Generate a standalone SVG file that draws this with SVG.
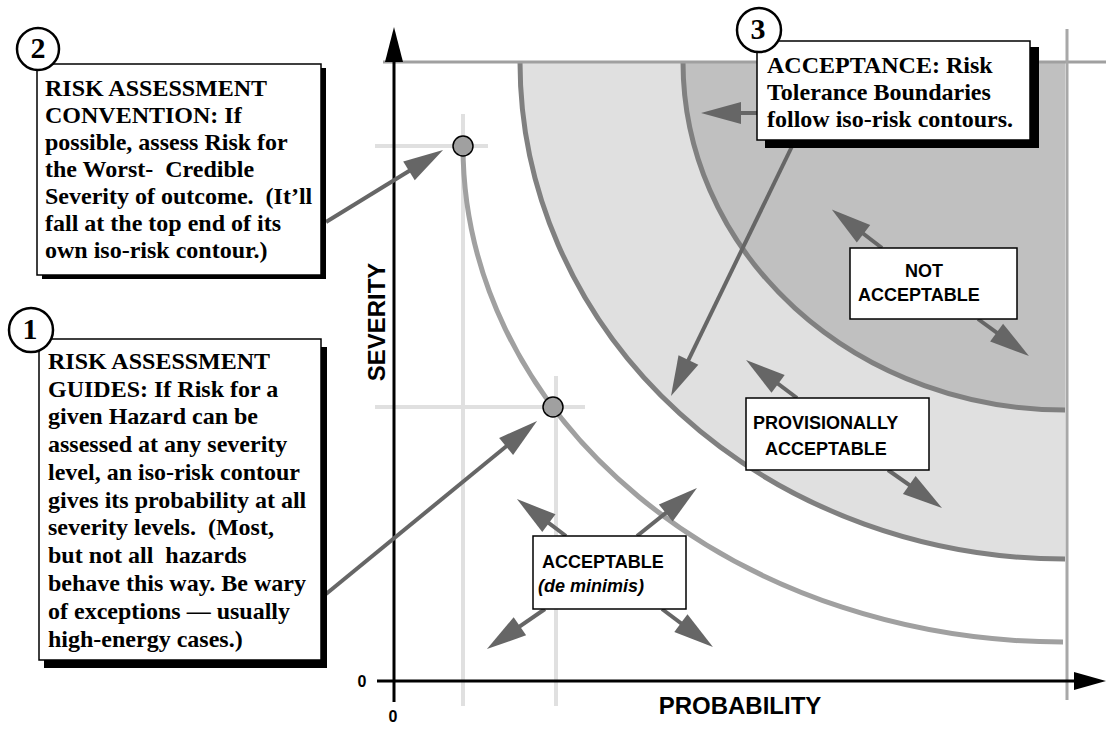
<svg xmlns="http://www.w3.org/2000/svg" width="1106" height="730" viewBox="0 0 1106 730">
<style>
.note{font-family:"Liberation Serif","Times New Roman",serif;font-weight:bold;font-size:24px;fill:#000}
.num{font-family:"Liberation Serif","Times New Roman",serif;font-weight:bold;font-size:30px;text-anchor:middle;fill:#000}
.lbl{font-family:"Liberation Sans",Arial,sans-serif;font-weight:bold;font-size:18px;fill:#000}
.ax{font-family:"Liberation Sans",Arial,sans-serif;font-weight:bold;font-size:24px;fill:#000}
.zero{font-family:"Liberation Sans",Arial,sans-serif;font-weight:bold;font-size:16px;fill:#000;text-anchor:middle}
.box{fill:#fff;stroke:#000;stroke-width:1.5}
.shadow{fill:#000}
.circ{fill:#fff;stroke:#000;stroke-width:2.5}
.arrow{stroke:#666;stroke-width:4;fill:none;marker-end:url(#ah)}
.guide{stroke:#e0e0e0;stroke-width:4}
.pt{fill:#a0a0a0;stroke:#000;stroke-width:1.5}
.bound{fill:none;stroke:#808080;stroke-width:5}
</style>
<defs>
<marker id="ah" markerUnits="userSpaceOnUse" markerWidth="40" markerHeight="22" refX="12" refY="11" orient="auto" overflow="visible">
<path d="M0,0 L40,11 L0,22 Z" fill="#666"/>
</marker>
</defs>
<g id="chart">
<path d="M520 62 A545 497 0 0 0 1065 559 L1065 62 Z" fill="#e0e0e0"/>
<path d="M683 62 A382 348 0 0 0 1065 410 L1065 62 Z" fill="#c0c0c0"/>
<line class="guide" x1="375" y1="146" x2="488" y2="146"/>
<line class="guide" x1="463" y1="114" x2="463" y2="706"/>
<line class="guide" x1="375" y1="407" x2="585" y2="407"/>
<line class="guide" x1="556" y1="376" x2="556" y2="706"/>
<path class="bound" d="M520 62 A545 497 0 0 0 1065 559"/>
<path class="bound" d="M683 62 A382 348 0 0 0 1065 410"/>
<path d="M463 146 A600 496 0 0 0 1063 642" fill="none" stroke="#a0a0a0" stroke-width="5"/>
<line x1="383" y1="62" x2="1106" y2="62" stroke="#a0a0a0" stroke-width="3"/>
<line x1="1067" y1="29" x2="1067" y2="700" stroke="#a8a8a8" stroke-width="3"/>
<line x1="394" y1="702" x2="394" y2="60" stroke="#000" stroke-width="3"/>
<polygon points="385,62 403,62 394,27" fill="#000"/>
<line x1="377" y1="681" x2="1078" y2="681" stroke="#000" stroke-width="3"/>
<polygon points="1074,672 1074,690 1106,681" fill="#000"/>
<text class="zero" x="362" y="687">0</text>
<text class="zero" x="393" y="722">0</text>
<text class="ax" x="740" y="714" text-anchor="middle">PROBABILITY</text>
<text class="ax" transform="translate(385,322) rotate(-90)" text-anchor="middle">SEVERITY</text>
</g>
<g id="point-upper"><circle class="pt" cx="463" cy="146" r="10"/></g>
<g id="point-lower"><circle class="pt" cx="553" cy="407" r="10"/></g>
<g id="connectors">
<line class="arrow" x1="326" y1="222" x2="419.2" y2="164.7"/>
<line class="arrow" x1="326" y1="594" x2="515.4" y2="438.8"/>
<line class="arrow" x1="757" y1="113" x2="729" y2="113"/>
<line class="arrow" x1="797" y1="136" x2="683.2" y2="370.8"/>
<line class="arrow" x1="882" y1="248" x2="854" y2="226.5"/>
<line class="arrow" x1="978" y1="319" x2="1006.3" y2="339.6"/>
<line class="arrow" x1="797" y1="398" x2="768.5" y2="376.7"/>
<line class="arrow" x1="888" y1="470" x2="919.1" y2="491.9"/>
<line class="arrow" x1="566" y1="536" x2="539.3" y2="515.9"/>
<line class="arrow" x1="637" y1="536" x2="675.1" y2="505.5"/>
<line class="arrow" x1="545" y1="609" x2="510" y2="633.1"/>
<line class="arrow" x1="662" y1="609" x2="690.5" y2="630.3"/>
</g>
<g id="note2">
<rect class="shadow" x="42" y="68" width="284" height="211"/>
<rect class="box" x="37" y="64" width="284" height="211"/>
<circle class="circ" cx="38" cy="49" r="21"/>
<text class="num" x="38" y="58">2</text>
<text class="note" x="45" xml:space="preserve"><tspan x="45" y="96">RISK ASSESSMENT</tspan><tspan x="45" y="123">CONVENTION: If</tspan><tspan x="45" y="150">possible, assess Risk for</tspan><tspan x="45" y="177">the Worst-  Credible</tspan><tspan x="45" y="204">Severity of outcome.  (It’ll</tspan><tspan x="45" y="231">fall at the top end of its</tspan><tspan x="45" y="258">own iso-risk contour.)</tspan></text>
</g>
<g id="note1">
<rect class="shadow" x="44" y="347" width="283" height="321"/>
<rect class="box" x="39" y="339" width="282" height="321"/>
<circle class="circ" cx="31" cy="330" r="22"/>
<text class="num" x="30" y="339">1</text>
<text class="note" x="48" xml:space="preserve"><tspan x="48" y="369">RISK ASSESSMENT</tspan><tspan x="48" y="397">GUIDES: If Risk for a</tspan><tspan x="48" y="424">given Hazard can be</tspan><tspan x="48" y="452">assessed at any severity</tspan><tspan x="48" y="480">level, an iso-risk contour</tspan><tspan x="48" y="508">gives its probability at all</tspan><tspan x="48" y="535">severity levels.  (Most,</tspan><tspan x="48" y="563">but not all  hazards</tspan><tspan x="48" y="591">behave this way. Be wary</tspan><tspan x="48" y="619">of exceptions — usually</tspan><tspan x="48" y="647">high-energy cases.)</tspan></text>
</g>
<g id="note3">
<rect class="shadow" x="765" y="47" width="274" height="101"/>
<rect class="box" x="757" y="41" width="273" height="99"/>
<circle class="circ" cx="759" cy="30" r="22"/>
<text class="num" x="758" y="39">3</text>
<text class="note" x="767"><tspan x="767" y="73">ACCEPTANCE: Risk</tspan><tspan x="767" y="100">Tolerance Boundaries</tspan><tspan x="767" y="127">follow iso-risk contours.</tspan></text>
</g>
<g id="label-not-acceptable">
<rect class="box" x="850" y="248" width="167" height="71"/>
<text class="lbl" x="924" y="277" text-anchor="middle">NOT</text>
<text class="lbl" x="858" y="301">ACCEPTABLE</text>
</g>
<g id="label-provisionally-acceptable">
<rect class="box" x="746" y="398" width="183" height="72"/>
<text class="lbl" x="753" y="429">PROVISIONALLY</text>
<text class="lbl" x="765" y="455">ACCEPTABLE</text>
</g>
<g id="label-acceptable">
<rect class="box" x="533" y="536" width="153" height="73"/>
<text class="lbl" x="542" y="568">ACCEPTABLE</text>
<text class="lbl" x="538" y="592" font-style="italic">(de minimis)</text>
</g>
</svg>
